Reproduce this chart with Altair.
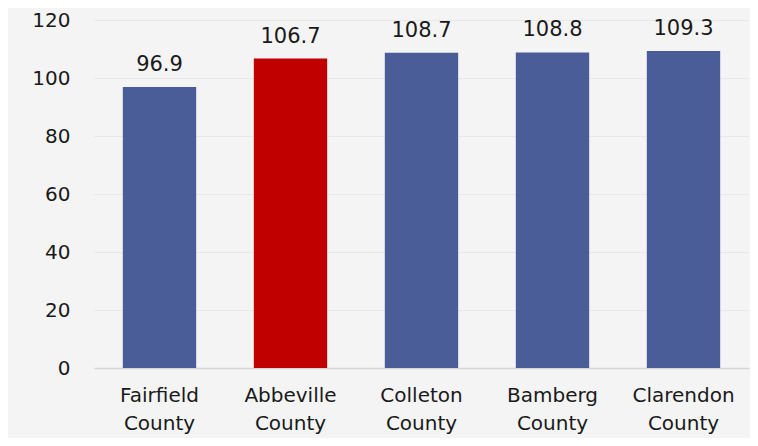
import altair as alt
import pandas as pd

counties = ["Fairfield County", "Abbeville County", "Colleton County", "Bamberg County", "Clarendon County"]
values = [96.9, 106.7, 108.7, 108.8, 109.3]
colors = ["#4a5d99", "#c00000", "#4a5d99", "#4a5d99", "#4a5d99"]

df = pd.DataFrame({"county": counties, "value": values, "color": colors})

FONT = "DejaVu Sans"

x = alt.X("county:N", sort=None, title=None,
          scale=alt.Scale(paddingInner=0.44, paddingOuter=0.22),
          axis=alt.Axis(labelAngle=0, labelExpr="split(datum.label, ' ')",
                        labelFontSize=20, labelColor="#1a1a1a", labelFont=FONT,
                        labelPadding=17, labelLineHeight=28, ticks=False,
                        domainColor="#d6d6d6", domainWidth=1.5, grid=False))
y = alt.Y("value:Q", title=None,
          scale=alt.Scale(domain=[0, 120]),
          axis=alt.Axis(values=[0, 20, 40, 60, 80, 100, 120], ticks=False, domain=False,
                        labelFontSize=20, labelColor="#1a1a1a", labelFont=FONT,
                        labelPadding=24, gridColor="#e8e8e8", gridWidth=1))

base = alt.Chart(df).encode(x=x, y=y)
bars = base.mark_bar().encode(color=alt.Color("color:N", scale=None))
labels = base.mark_text(dy=-12, baseline="bottom", fontSize=21, font=FONT, color="#1a1a1a").encode(
    text=alt.Text("value:Q", format=".1f"))

chart = (bars + labels).properties(
    width=655, height=348,
    background="#f4f4f4",
    padding={"left": 86, "top": 12, "right": 1, "bottom": 70},
    autosize=alt.AutoSizeParams(type="none"),
).configure_view(stroke=None)

chart.save("out.html", embed_options={"renderer": "svg", "actions": False})
